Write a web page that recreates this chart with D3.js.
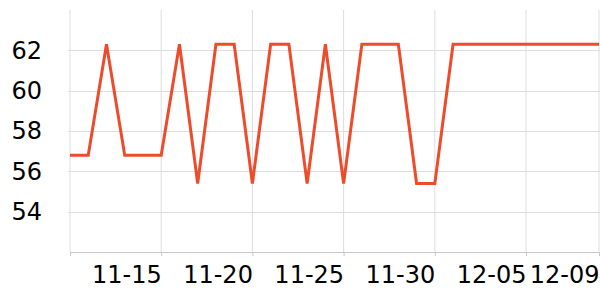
<!DOCTYPE html>
<html>
<head>
<meta charset="utf-8">
<script src="https://cdn.jsdelivr.net/npm/d3@7"></script>
<style>
  body { margin: 0; background: #fff; }
  text { font-family: "DejaVu Sans", sans-serif; }
</style>
</head>
<body>
<div id="main"></div>
<script>
const dates = [
  "2023-11-10", "2023-11-11", "2023-11-12", "2023-11-13", "2023-11-14",
  "2023-11-15", "2023-11-16", "2023-11-17", "2023-11-18", "2023-11-19",
  "2023-11-20", "2023-11-21", "2023-11-22", "2023-11-23", "2023-11-24",
  "2023-11-25", "2023-11-26", "2023-11-27", "2023-11-28", "2023-11-29",
  "2023-11-30", "2023-12-01", "2023-12-02", "2023-12-03", "2023-12-04",
  "2023-12-05", "2023-12-06", "2023-12-07", "2023-12-08", "2023-12-09"
];
const values = [
  56.8, 56.8, 62.3, 56.8, 56.8,
  56.8, 62.3, 55.4, 62.3, 62.3,
  55.4, 62.3, 62.3, 55.4, 62.3,
  55.4, 62.3, 62.3, 62.3, 55.4,
  55.4, 62.3, 62.3, 62.3, 62.3,
  62.3, 62.3, 62.3, 62.3, 62.3
];
const xTicks = ["2023-11-10", "2023-11-15", "2023-11-20", "2023-11-25", "2023-11-30", "2023-12-05", "2023-12-09"];
const xLabels = ["", "11-15", "11-20", "11-25", "11-30", "12-05", "12-09"];
const yTicks = [54, 56, 58, 60, 62];

const width = 600;
const height = 300;
const margin = { top: 10, right: 1, bottom: 48, left: 70 };

const parse = d3.timeParse("%Y-%m-%d");
const data = dates.map((d, i) => [parse(d), values[i]]);

const x = d3
  .scaleTime()
  .domain([parse(dates[0]), parse(dates[dates.length - 1])])
  .range([margin.left, width - margin.right]);

const y = d3
  .scaleLinear()
  .domain([52, 64])
  .range([height - margin.bottom, margin.top]);

const svg = d3.select("#main").append("svg").attr("width", width).attr("height", height);

// grid
const grid = svg.append("g");
grid
  .selectAll("line.v")
  .data(xTicks.map(parse))
  .enter()
  .append("line")
  .attr("x1", (d) => x(d))
  .attr("x2", (d) => x(d))
  .attr("y1", margin.top)
  .attr("y2", height - margin.bottom)
  .attr("stroke", "#dddddd")
  .attr("stroke-width", 1);
grid
  .selectAll("line.h")
  .data(yTicks)
  .enter()
  .append("line")
  .attr("x1", margin.left - 2)
  .attr("x2", width)
  .attr("y1", (d) => Math.round(y(d)) + 0.5)
  .attr("y2", (d) => Math.round(y(d)) + 0.5)
  .attr("stroke", "#dddddd")
  .attr("stroke-width", 1);

// x axis
const xAxis = svg
  .append("g")
  .attr("transform", `translate(0, ${height - margin.bottom})`)
  .call(
    d3.axisBottom(x)
      .tickValues(xTicks.map(parse))
      .tickFormat((d, i) => xLabels[i])
      .tickSizeInner(4)
      .tickSizeOuter(0)
  );
xAxis.select(".domain").attr("stroke", "#c8c8c8").attr("d", `M${margin.left},0.5H${width}`);
xAxis.selectAll(".tick line").attr("stroke", "#c8c8c8");
xAxis
  .selectAll(".tick text")
  .attr("font-family", "DejaVu Sans")
  .attr("font-size", 24)
  .attr("fill", "#000")
  .attr("text-anchor", "end")
  .attr("y", 14);

// y axis
const yAxis = svg
  .append("g")
  .attr("transform", `translate(${margin.left}, 0)`)
  .call(d3.axisLeft(y).tickValues(yTicks).tickSize(0).tickPadding(28));
yAxis.select(".domain").remove();
yAxis
  .selectAll(".tick text")
  .attr("font-family", "DejaVu Sans")
  .attr("font-size", 24)
  .attr("fill", "#000");

// line
const line = d3
  .line()
  .x((d) => x(d[0]))
  .y((d) => y(d[1]));

svg
  .append("path")
  .datum(data)
  .attr("fill", "none")
  .attr("stroke", "#ee4b2b")
  .attr("stroke-width", 3)
  .attr("stroke-linejoin", "miter")
  .attr("d", line);
</script>
</body>
</html>
